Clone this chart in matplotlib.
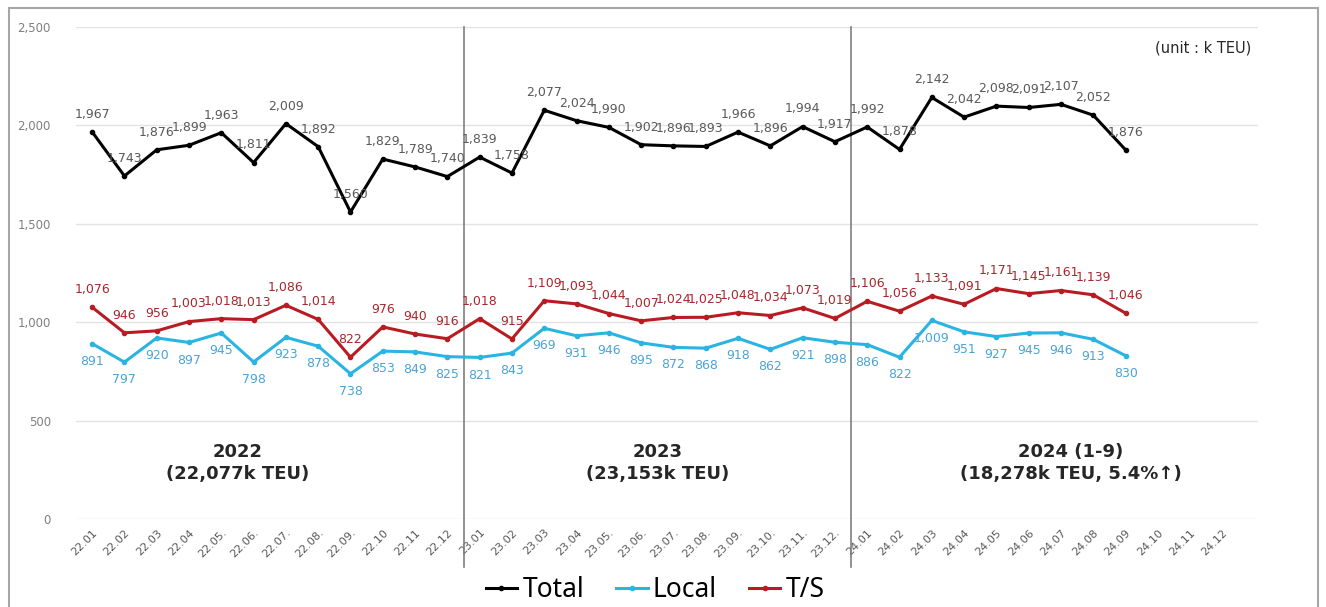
import matplotlib.pyplot as plt
from matplotlib.patches import Rectangle

months = ["22.01", "22.02", "22.03", "22.04", "22.05.", "22.06.", "22.07.", "22.08.", "22.09.", "22.10", "22.11", "22.12",
          "23.01", "23.02", "23.03", "23.04", "23.05.", "23.06.", "23.07.", "23.08.", "23.09.", "23.10.", "23.11.", "23.12.",
          "24.01", "24.02", "24.03", "24.04", "24.05", "24.06", "24.07", "24.08", "24.09", "24.10", "24.11", "24.12"]

total = [1967, 1743, 1876, 1899, 1963, 1811, 2009, 1892, 1560, 1829, 1789, 1740,
         1839, 1758, 2077, 2024, 1990, 1902, 1896, 1893, 1966, 1896, 1994, 1917,
         1992, 1878, 2142, 2042, 2098, 2091, 2107, 2052, 1876]
local = [891, 797, 920, 897, 945, 798, 923, 878, 738, 853, 849, 825,
         821, 843, 969, 931, 946, 895, 872, 868, 918, 862, 921, 898,
         886, 822, 1009, 951, 927, 945, 946, 913, 830]
ts = [1076, 946, 956, 1003, 1018, 1013, 1086, 1014, 822, 976, 940, 916,
      1018, 915, 1109, 1093, 1044, 1007, 1024, 1025, 1048, 1034, 1073, 1019,
      1106, 1056, 1133, 1091, 1171, 1145, 1161, 1139, 1046]

year_labels = ["2022\n(22,077k TEU)", "2023\n(23,153k TEU)", "2024 (1-9)\n(18,278k TEU, 5.4%\u2191)"]
year_centers = [4.5, 17.5, 30.3]

fig = plt.figure(figsize=(13.26, 6.07), dpi=100)
ax = fig.add_axes([0.0573, 0.145, 0.8914, 0.8105])

x = range(len(total))
ax.plot(x, total, color="black", lw=2.2, marker="o", ms=3, label="Total", zorder=3)
ax.plot(x, local, color="#2AB4E2", lw=2.2, marker="o", ms=3, label="Local", zorder=3)
ax.plot(x, ts, color="#B81C22", lw=2.2, marker="o", ms=3, label="T/S", zorder=3)

# data labels
for i, v in enumerate(total):
    ax.annotate(f"{v:,}", (i, v), xytext=(0, 8), textcoords="offset points",
                ha="center", va="bottom", fontsize=9, color="#595959")
for i, v in enumerate(ts):
    ax.annotate(f"{v:,}", (i, v), xytext=(0, 8), textcoords="offset points",
                ha="center", va="bottom", fontsize=9, color="#A8262C")
for i, v in enumerate(local):
    ax.annotate(f"{v:,}", (i, v), xytext=(0, -8), textcoords="offset points",
                ha="center", va="top", fontsize=9, color="#4BA3D6")

# year separators
for xv in [11.5, 23.5]:
    ax.axvline(xv, ymin=-0.098, ymax=1, color="#7F7F7F", lw=1.2, clip_on=False, zorder=2)

for xc, txt in zip(year_centers, year_labels):
    ax.text(xc, 285, txt, ha="center", va="center", fontsize=13, fontweight="bold",
            color="#262626", linespacing=1.3)

ax.text(35.9, 2395, "(unit : k TEU)", ha="right", va="center", fontsize=10.5, color="#262626")

ax.set_xlim(-0.5, 36.1)
ax.set_ylim(0, 2500)
ax.set_yticks([0, 500, 1000, 1500, 2000, 2500])
ax.set_yticklabels(["0", "500", "1,000", "1,500", "2,000", "2,500"])
ax.set_xticks(range(len(months)))
ax.set_xticklabels(months, rotation=45, ha="right", rotation_mode="anchor")
ax.tick_params(axis="x", length=0, labelsize=8, colors="#595959", pad=6)
ax.tick_params(axis="y", length=0, labelsize=8.5, colors="#7F7F7F", pad=18)
ax.grid(axis="y", color="#E3E3E3", lw=1)
ax.set_axisbelow(True)
for s in ax.spines.values():
    s.set_visible(False)

ax.legend(loc="upper center", bbox_to_anchor=(0.49, -0.11), ncol=3, frameon=False,
          handlelength=1.2, handletextpad=0.2, columnspacing=1.2, borderpad=0.1,
          borderaxespad=0, prop={"family": "Noto Sans", "size": 19})

fig.patches.append(Rectangle((0.0068, -0.02), 0.9872, 1.007, transform=fig.transFigure,
                             fill=False, edgecolor="#A6A6A6", lw=1.5))

plt.savefig("out.png", dpi=100)
